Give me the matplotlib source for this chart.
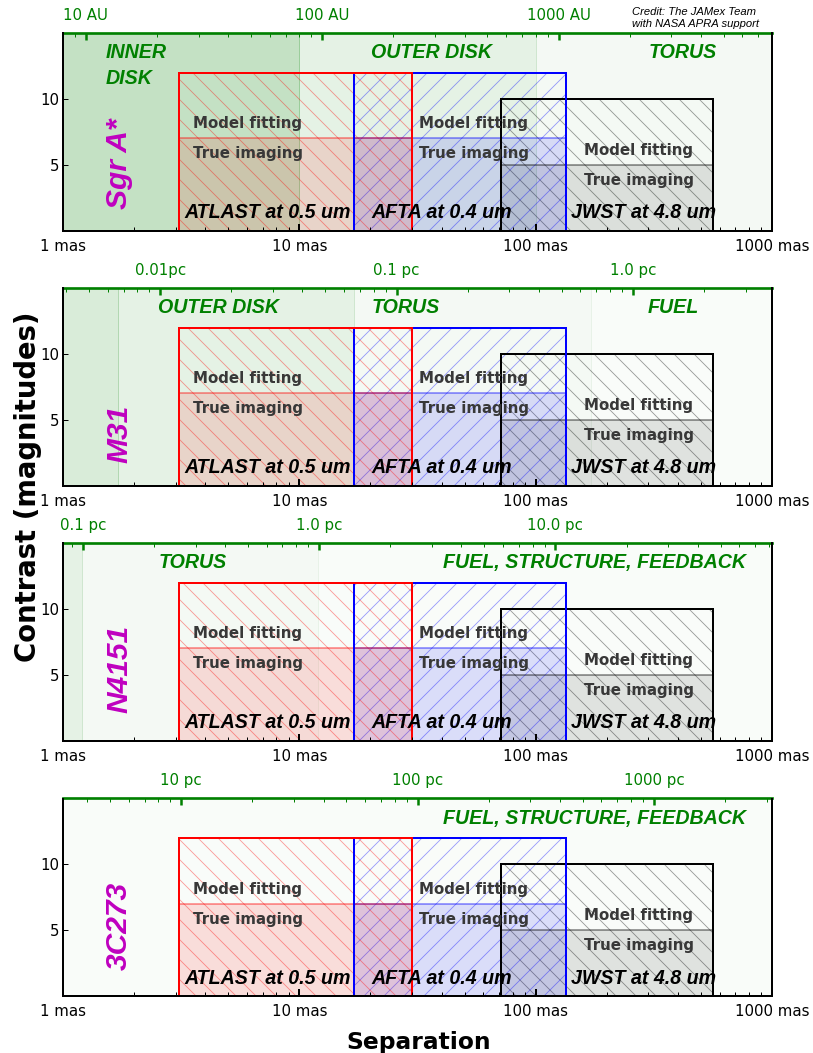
import numpy as np
import matplotlib
matplotlib.use("Agg")
import matplotlib.pyplot as plt
from matplotlib.patches import Rectangle
from matplotlib.ticker import FixedLocator, FixedFormatter, LogLocator, NullFormatter

# ===================== Data =====================

targets = ["Sgr A*", "M31", "N4151", "3C273"]
target_label_y = [5.1, 3.9, 5.4, 5.3]

# physical size of 1 mas at each target (AU for Sgr A*, pc for the others)
scale_per_mas = [8.0, 0.00388, 0.0825, 3.16]

top_ticks = [[10, 100, 1000], [0.01, 0.1, 1.0], [0.1, 1.0, 10.0], [10, 100, 1000]]
top_labels = [["10 AU", "100 AU", "1000 AU"],
              ["0.01pc", "0.1 pc", "1.0 pc"],
              ["0.1 pc", "1.0 pc", "10.0 pc"],
              ["10 pc", "100 pc", "1000 pc"]]

# shaded regions (mas) and how strong the green is
region_edges = [[1, 10, 100, 1000],
                [1, 1.71, 17.1, 171, 1000],
                [1, 1.2, 12, 1000],
                [1, 1000]]
region_alpha = [[0.23, 0.10, 0.045],
                [0.15, 0.10, 0.045, 0.022],
                [0.10, 0.045, 0.022],
                [0.022]]

region_text = [["INNER", "DISK", "OUTER DISK", "TORUS"],
               ["OUTER DISK", "TORUS", "FUEL"],
               ["TORUS", "FUEL, STRUCTURE, FEEDBACK"],
               ["FUEL, STRUCTURE, FEEDBACK"]]
region_text_x = [[1.52, 1.52, 36.4, 420],
                 [4.56, 28.2, 384],
                 [3.55, 177],
                 [177]]
region_text_y = [[13.5, 11.55, 13.5, 13.5],
                 [13.5, 13.5, 13.5],
                 [13.5, 13.5],
                 [13.5]]
region_text_ha = [["left", "left", "center", "center"],
                  ["center", "center", "center"],
                  ["center", "center"],
                  ["center"]]

# instruments: separation range (mas) and contrast limits (mag)
inst_names = ["ATLAST at 0.5 um", "AFTA at 0.4 um", "JWST at 4.8 um"]
inst_inner = [3.1, 17, 71]
inst_outer = [30, 135, 565]
inst_model = [12, 12, 10]
inst_image = [7, 7, 5]
inst_colors = ["red", "blue", "black"]
inst_hatch = ["\\", "/", "\\"]
inst_fill_alpha = [0.12, 0.12, 0.1]
inst_name_x = [3.25, 20.2, 140.7]
inst_fit_x = [3.54, 32.2, 160.6]

x_ticks = [1, 10, 100, 1000]
x_labels = ["1 mas", "10 mas", "100 mas", "1000 mas"]

# ===================== Plotting =====================

DPI = 60
fig = plt.figure(figsize=(813 / DPI, 1053 / DPI), dpi=DPI)

ax_left = 63 / 813
ax_w = (772 - 63) / 813
ax_h = 197.5 / 1053
ax_bottoms = [(1053 - 230.5) / 1053, (1053 - 485.5) / 1053,
              (1053 - 740.5) / 1053, (1053 - 996) / 1053]

bold_it = dict(family="Liberation Sans", weight="bold", style="italic")

for p, name in enumerate(targets):
    ax = fig.add_axes([ax_left, ax_bottoms[p], ax_w, ax_h])
    ax.set_xscale("log")
    ax.set_xlim(1, 1000)
    ax.set_ylim(0, 15)

    # background regions
    edges = region_edges[p]
    for i, a in enumerate(region_alpha[p]):
        ax.axvspan(edges[i], edges[i + 1], color="green", alpha=a, zorder=0.5)

    for t, x, y, ha in zip(region_text[p], region_text_x[p],
                           region_text_y[p], region_text_ha[p]):
        ax.text(x, y, t, color="green", fontsize=23.5, ha=ha, va="center", **bold_it)

    ax.text(1.73, target_label_y[p], name, color="m", fontsize=36, rotation=90,
            ha="center", va="center", **bold_it)

    # instrument boxes, drawn back to front
    for i in [2, 1, 0]:
        c = inst_colors[i]
        x0, x1 = inst_inner[i], inst_outer[i]
        w = x1 - x0
        ax.add_patch(Rectangle((x0, 0), w, inst_model[i], fill=False,
                               hatch=inst_hatch[i], edgecolor=c, alpha=0.4,
                               linewidth=0, zorder=1))
        ax.add_patch(Rectangle((x0, 0), w, inst_image[i], facecolor=c,
                               edgecolor=c, alpha=inst_fill_alpha[i],
                               linewidth=0, zorder=1))
        ax.plot([x0, x1], [inst_image[i], inst_image[i]], color=c, alpha=0.5,
                linewidth=1.8, zorder=1.2)
        ax.add_patch(Rectangle((x0, 0), w, inst_model[i], fill=False,
                               edgecolor=c, linewidth=2.4, zorder=1.5))

    for i in range(3):
        ax.text(inst_fit_x[i], inst_image[i] + 0.76, "Model fitting",
                fontsize=18, weight="bold", color="0.22", va="baseline", zorder=4)
        ax.text(inst_fit_x[i], inst_image[i] - 1.52, "True imaging",
                fontsize=18, weight="bold", color="0.22", va="baseline", zorder=4)
        ax.text(inst_name_x[i], 0.93, inst_names[i], fontsize=23.5,
                color="black", va="baseline", zorder=4, **bold_it)

    # axes styling
    ax.set_xticks(x_ticks)
    ax.set_xticklabels(x_labels)
    ax.xaxis.set_minor_locator(LogLocator(subs=np.arange(2, 10)))
    ax.xaxis.set_minor_formatter(NullFormatter())
    ax.set_yticks([5, 10])
    ax.tick_params(axis="x", which="major", direction="in", length=8.4,
                   width=2.4, labelsize=18, pad=10)
    ax.tick_params(axis="x", which="minor", direction="in", length=4.5, width=1.2)
    ax.tick_params(axis="y", which="major", direction="in", length=6,
                   width=1.2, labelsize=18, pad=5)
    for s in ["left", "right", "bottom"]:
        ax.spines[s].set_linewidth(2.4)
    ax.spines["top"].set_visible(False)

    k = scale_per_mas[p]
    sec = ax.secondary_xaxis("top", functions=(lambda x, k=k: x * k,
                                               lambda x, k=k: x / k))
    sec.xaxis.set_major_locator(FixedLocator(top_ticks[p]))
    sec.xaxis.set_major_formatter(FixedFormatter(top_labels[p]))
    sec.xaxis.set_minor_locator(LogLocator(subs=np.arange(2, 10)))
    sec.xaxis.set_minor_formatter(NullFormatter())
    sec.tick_params(which="major", direction="in", length=8.4, width=3,
                    color="green", labelcolor="green", labelsize=18, pad=12)
    sec.tick_params(which="minor", direction="in", length=4.5, width=1.2,
                    color="green")
    sec.spines["top"].set_color("green")
    sec.spines["top"].set_linewidth(3.2)

fig.text(27.8 / 813, 1 - 487 / 1053, "Contrast (magnitudes)", rotation=90,
         fontsize=33, weight="bold", ha="center", va="center")
fig.text(418.5 / 813, 3.7 / 1053, "Separation", fontsize=28, weight="bold",
         ha="center", va="baseline")
fig.text(632 / 813, 1 - 18 / 1053, "Credit: The JAMex Team\nwith NASA APRA support",
         fontsize=13.5, family="Liberation Sans", style="italic",
         ha="left", va="center")

fig.savefig("out.png", dpi=DPI)
plt.close(fig)
